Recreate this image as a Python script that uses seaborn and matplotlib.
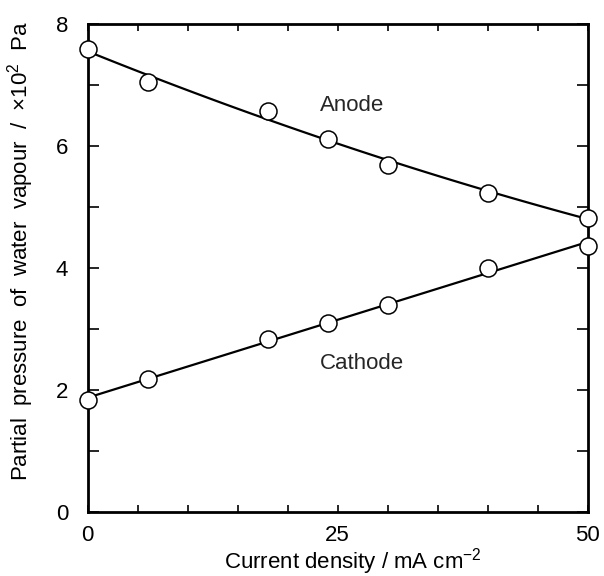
import numpy as np
import pandas as pd
import matplotlib
matplotlib.use("Agg")
import matplotlib.pyplot as plt
from matplotlib.ticker import MultipleLocator, FixedLocator
import seaborn as sns

# Data
anode_x = [0, 6, 18, 24, 30, 40, 50]
anode_y = [7.60, 7.05, 6.57, 6.12, 5.69, 5.24, 4.83]
cathode_x = [0, 6, 18, 24, 30, 40, 50]
cathode_y = [1.84, 2.18, 2.84, 3.10, 3.39, 4.00, 4.36]

x_ticks = [0, 25, 50]
y_ticks = [0, 2, 4, 6, 8]
x_label = "Current density / mA cm$^{-2}$"
y_label = "Partial  pressure  of  water  vapour  /  \u00d710$^2$  Pa"

sns.set_theme(style="ticks")
plt.rcParams['font.family'] = ['Liberation Sans', 'DejaVu Sans']
plt.rcParams['mathtext.fontset'] = 'custom'
plt.rcParams['mathtext.rm'] = 'Liberation Sans'

fig = plt.figure(figsize=(6.04, 5.76), dpi=100)
ax = fig.add_axes([0.145, 0.111, 0.828, 0.847])

# fitted curves computed from the data
xs = np.linspace(0, 50, 101)
a_fit = np.polyval(np.polyfit(anode_x, anode_y, 2), xs)
c_fit = np.polyval(np.polyfit(cathode_x, cathode_y, 1), xs)
fit_df = pd.DataFrame({"x": np.concatenate([xs, xs]),
                       "y": np.concatenate([a_fit, c_fit]),
                       "s": ["Anode"] * len(xs) + ["Cathode"] * len(xs)})
sns.lineplot(data=fit_df, x="x", y="y", units="s", estimator=None,
             color="black", linewidth=1.6, ax=ax, legend=False, zorder=2)

pts = pd.DataFrame({"x": anode_x + cathode_x, "y": anode_y + cathode_y})
sns.scatterplot(data=pts, x="x", y="y", s=150, facecolor="white",
                edgecolor="black", linewidth=1.1, ax=ax, zorder=3,
                clip_on=False)

ax.set_xlim(0, 50)
ax.set_ylim(0, 8)
ax.xaxis.set_major_locator(FixedLocator(x_ticks))
ax.xaxis.set_minor_locator(MultipleLocator(5))
ax.yaxis.set_major_locator(FixedLocator(y_ticks))
ax.yaxis.set_minor_locator(MultipleLocator(1))
ax.tick_params(axis="both", which="both", direction="in", top=True, right=True,
               width=1.2, color="black", labelsize=16, labelcolor="black")
ax.tick_params(axis="y", which="both", length=8, pad=14)
ax.tick_params(axis="x", which="both", length=5, pad=9)
for sp in ax.spines.values():
    sp.set_visible(True)
    sp.set_linewidth(2.0)
    sp.set_color("black")

ax.set_xlabel(x_label, fontsize=16, color="black")
ax.set_ylabel(y_label, fontsize=16, color="black")
ax.xaxis.set_label_coords(0.53, -0.070)
ax.yaxis.set_label_coords(-0.104, 0.535)

ax.text(26.4, 6.67, "Anode", fontsize=16, ha="center", va="center")
ax.text(27.4, 2.44, "Cathode", fontsize=16, ha="center", va="center")

fig.savefig("out.png", dpi=100)
